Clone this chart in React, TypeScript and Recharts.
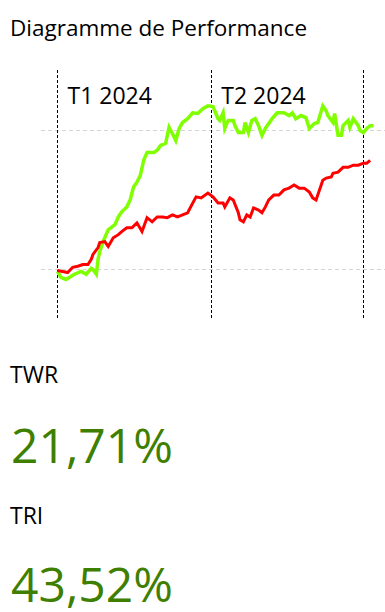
import { LineChart, Line, XAxis, YAxis, ReferenceLine } from "recharts";

// jours depuis le début de T1 2024, rendement cumulé en %
const triDays = [0, 2, 5, 10, 14, 17, 20, 21, 23, 24, 25, 27, 30, 34, 36, 38, 41, 43, 45, 47, 49, 51, 53, 57, 59, 61, 64, 66, 68, 70, 72, 74, 77, 80, 83, 86, 89, 92, 95, 96, 98, 99, 101, 104, 105, 107, 110, 111, 113, 115, 117, 119, 121, 123, 125, 127, 130, 134, 137, 139, 141, 144, 147, 149, 152, 154, 157, 159, 160, 163, 164, 166, 168, 169, 172, 173, 175, 178, 179, 181, 183, 185, 187];
const triValues = [-0.6, -2.3, -2.9, -1.4, -0.6, -1.4, 0.3, 0, -1.4, 2.9, 5.1, 8.0, 11.4, 12.9, 15.1, 16.6, 18.0, 20.0, 23.7, 25.1, 27.1, 31.4, 33.7, 33.7, 34.3, 35.7, 36.3, 40.9, 39.1, 37.1, 40.6, 42.3, 43.4, 45.1, 44.9, 46.3, 47.1, 46.9, 43.4, 42.9, 45.1, 40.6, 42.9, 42.9, 41.4, 39.4, 39.4, 42.3, 39.4, 42.9, 43.4, 41.4, 38.6, 40.6, 42.0, 43.4, 45.1, 45.1, 44.3, 45.1, 43.4, 44.3, 43.7, 40.6, 42.0, 42.3, 47.1, 45.7, 44.3, 42.3, 44.9, 38.6, 38.6, 41.4, 42.9, 40.9, 43.4, 41.4, 40.0, 39.4, 40.6, 41.4, 41.4];

const twrDays = [0, 3, 6, 9, 12, 15, 18, 20, 21, 24, 25, 28, 30, 33, 36, 38, 41, 44, 47, 50, 53, 56, 59, 62, 65, 68, 71, 74, 77, 80, 82, 85, 89, 92, 95, 98, 99, 102, 104, 107, 108, 110, 112, 114, 116, 119, 121, 123, 125, 128, 131, 134, 137, 140, 143, 146, 149, 151, 153, 154, 157, 159, 162, 163, 166, 169, 172, 175, 178, 181, 183, 185];
const twrValues = [-0.3, -0.6, -0.9, 0.6, 0.9, 1.4, 1.4, 2.9, 4.3, 6.3, 7.7, 8.0, 6.6, 9.1, 10.0, 10.9, 12.0, 12.0, 13.4, 10.9, 14.9, 13.7, 15.1, 15.1, 14.9, 15.7, 15.1, 15.7, 16.3, 19.1, 20.9, 20.6, 22.0, 20.9, 19.1, 19.1, 18.0, 20.6, 20.0, 16.3, 14.3, 13.7, 15.7, 15.1, 17.7, 17.1, 16.3, 18.0, 20.0, 21.4, 21.4, 22.9, 23.4, 24.3, 23.4, 23.4, 22.3, 20.6, 20.0, 21.4, 25.7, 26.3, 26.6, 27.7, 28.0, 29.4, 29.4, 30.0, 30.0, 30.6, 30.6, 31.4];

const quarters = [
    { day: 0, label: "T1 2024" },
    { day: 91, label: "T2 2024" },
    { day: 181, label: "" },
];
const gridValues = [0, 40];

const kpis = [
    { name: "TWR", value: "21,71%" },
    { name: "TRI", value: "43,52%" },
];

const triData = triDays.map((d, i) => ({ d, v: triValues[i] }));
const twrData = twrDays.map((d, i) => ({ d, v: twrValues[i] }));

const font = "'Open Sans', 'Noto Sans', sans-serif";

export default function App() {
    return (
        <div style={{ position: "absolute", left: 0, top: 0, width: 385, height: 612, background: "#fff" }}>
            <LineChart
                width={385}
                height={330}
                margin={{ top: 68, right: 0, bottom: 12, left: 41 }}
                style={{ position: "absolute", left: 0, top: 0 }}
            >
                <XAxis dataKey="d" type="number" domain={[-9.76, 193.79]} hide allowDataOverflow />
                <YAxis type="number" domain={[-14, 58]} hide allowDataOverflow />
                {gridValues.map((g) => (
                    <ReferenceLine key={g} y={g} stroke="#d4d4d4" strokeDasharray="4 3" shapeRendering="crispEdges" />
                ))}
                {quarters.map((q) => (
                    <ReferenceLine
                        key={q.day}
                        x={q.day}
                        stroke="#000"
                        strokeDasharray="3 2"
                        shapeRendering="crispEdges"
                        label={(props: any) => (
                            <text
                                x={props.viewBox.x + 10}
                                y={props.viewBox.y + 36}
                                fontFamily={font}
                                fontSize={23}
                                fill="#000"
                            >
                                {q.label}
                            </text>
                        )}
                    />
                ))}
                <Line
                    data={triData}
                    dataKey="v"
                    type="linear"
                    stroke="#7FFF00"
                    strokeWidth={3.5}
                    dot={false}
                    isAnimationActive={false}
                />
                <Line
                    data={twrData}
                    dataKey="v"
                    type="linear"
                    stroke="#FF0000"
                    strokeWidth={3}
                    dot={false}
                    isAnimationActive={false}
                />
            </LineChart>
            <svg width={385} height={612} style={{ position: "absolute", left: 0, top: 0, pointerEvents: "none" }}>
                <text x={10} y={36} fontFamily={font} fontSize={22.5} fill="#000">
                    Diagramme de Performance
                </text>
                {kpis.map((k, i) => (
                    <g key={k.name}>
                        <text x={10} y={383 + i * 141} fontFamily={font} fontSize={23} fill="#000">
                            {k.name}
                        </text>
                        <text x={11} y={463 + i * 139} fontFamily={font} fontSize={48} fill="#3F7F00">
                            {k.value}
                        </text>
                    </g>
                ))}
            </svg>
        </div>
    );
}
